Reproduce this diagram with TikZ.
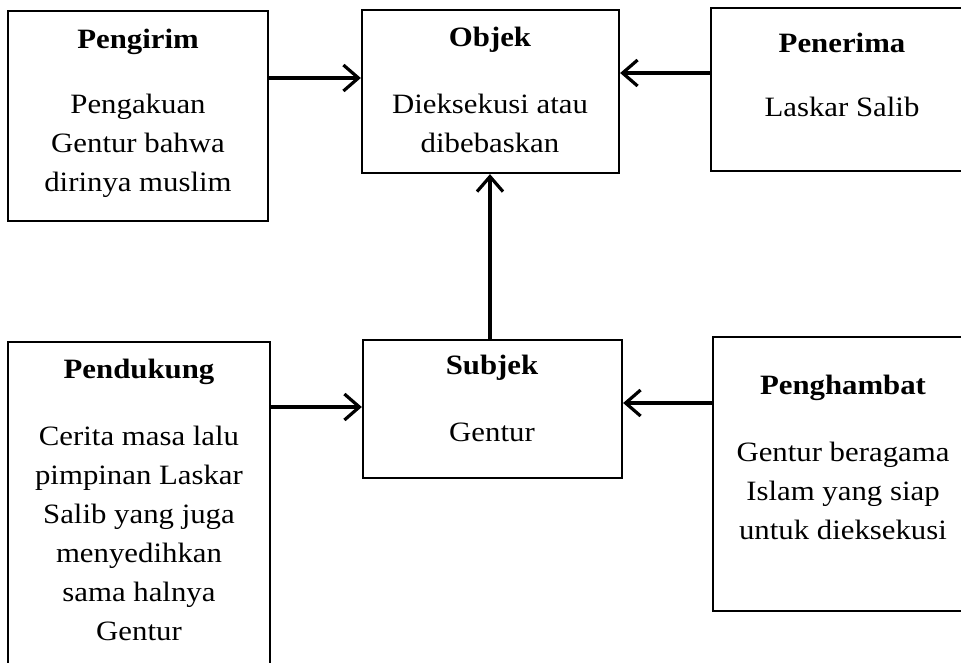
\documentclass[tikz,border=0pt]{standalone}
\usepackage{fontspec}
\setmainfont[FakeStretch=1.1]{Liberation Serif}
\usetikzlibrary{arrows.meta}
\begin{document}
\begin{tikzpicture}[x=1pt,y=-1pt,
  box/.style={draw=black, line width=2.3pt, rectangle, inner sep=0pt},
  ttl/.style={font=\fontsize{28}{39}\selectfont\bfseries, inner sep=0pt},
  txt/.style={font=\fontsize{28}{39}\selectfont, align=center, inner sep=0pt},
  arr/.style={line width=3.6pt, -{Straight Barb[length=15pt,width=26pt,line width=3.2pt]}}]
\clip (0,0) rectangle (961,662);
\fill[white] (0,0) rectangle (961,662);
% boxes
\node[box, minimum width=260pt, minimum height=210pt] (pengirim) at (138,116) {};
\node[box, minimum width=257pt, minimum height=163pt] (objek) at (490.5,91.5) {};
\node[box, minimum width=264pt, minimum height=163pt] (penerima) at (843,89.5) {};
\node[box, minimum width=262pt, minimum height=340pt] (pendukung) at (139,512) {};
\node[box, minimum width=259pt, minimum height=138pt] (subjek) at (492.5,409) {};
\node[box, minimum width=262pt, minimum height=274pt] (penghambat) at (844,474) {};
% titles
\node[ttl] (t1) at (138,42) {Pengirim};
\node[ttl] (t2) at (490,40) {Objek};
\node[ttl] (t3) at (842,43) {Penerima};
\node[ttl] (t4) at (139,372) {Pendukung};
\node[ttl] (t5) at (492,368) {Subjek};
\node[ttl] (t6) at (843,388) {Penghambat};
% bodies
\node[txt] (b1) at (138,146) {Pengakuan\\Gentur bahwa\\dirinya muslim};
\node[txt] (b2) at (490,123) {Dieksekusi atau\\dibebaskan};
\node[txt] (b3) at (842,107) {Laskar Salib};
\node[txt] (b4) at (139,533) {Cerita masa lalu\\pimpinan Laskar\\Salib yang juga\\menyedihkan\\sama halnya\\Gentur};
\node[txt] (b5) at (492,432) {Gentur};
\node[txt] (b6) at (843,491) {Gentur beragama\\Islam yang siap\\untuk dieksekusi};
% connectors
\draw[arr] (pengirim.east |- 0,78) -- (objek.west |- 0,78);
\draw[arr] (penerima.west |- 0,73) -- (objek.east |- 0,73);
\draw[arr] (subjek.north -| 490,0) -- (objek.south -| 490,0);
\draw[arr] (pendukung.east |- 0,407) -- (subjek.west |- 0,407);
\draw[arr] (penghambat.west |- 0,403) -- (subjek.east |- 0,403);
\end{tikzpicture}
\end{document}
